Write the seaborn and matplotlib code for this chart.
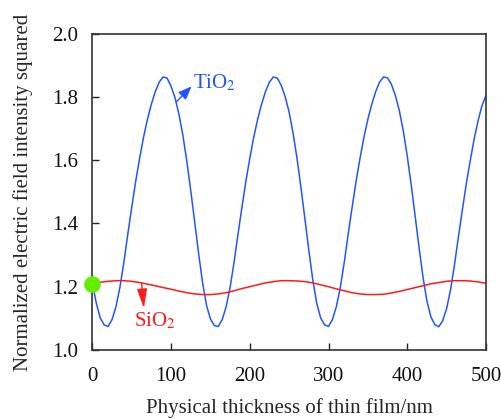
"""
Normalized electric field intensity squared versus physical film thickness
for a TiO2 film and a SiO2 film.
"""

import numpy as np
import matplotlib
matplotlib.use("Agg")
import matplotlib.pyplot as plt
import seaborn as sns

# Physical thickness of thin film (nm), read every 5 nm / 10 nm
thickness_tio2 = np.arange(0, 505, 5)
thickness_sio2 = np.arange(0, 510, 10)

# TiO2 curve values
efield_tio2 = [
    1.212, 1.148, 1.101, 1.079, 1.074, 1.096, 1.137, 1.198, 1.277, 1.366,
    1.451, 1.533, 1.606, 1.673, 1.730, 1.778, 1.818, 1.848, 1.864, 1.860,
    1.834, 1.798, 1.746, 1.679, 1.597, 1.504, 1.405, 1.305, 1.213, 1.141,
    1.098, 1.077, 1.074, 1.096, 1.137, 1.198, 1.277, 1.366, 1.451, 1.533,
    1.606, 1.673, 1.730, 1.778, 1.818, 1.848, 1.864, 1.860, 1.837, 1.801,
    1.752, 1.686, 1.606, 1.514, 1.415, 1.315, 1.222, 1.148, 1.101, 1.079,
    1.074, 1.096, 1.137, 1.198, 1.277, 1.366, 1.451, 1.533, 1.606, 1.673,
    1.730, 1.778, 1.818, 1.848, 1.864, 1.861, 1.840, 1.805, 1.757, 1.693,
    1.614, 1.523, 1.425, 1.325, 1.231, 1.155, 1.105, 1.080, 1.073, 1.092,
    1.130, 1.190, 1.268, 1.357, 1.442, 1.525, 1.598, 1.667, 1.725, 1.773,
    1.805,
]

# SiO2 curve values
efield_sio2 = [
    1.209, 1.214, 1.217, 1.219, 1.219, 1.217, 1.213, 1.208, 1.203, 1.197,
    1.192, 1.186, 1.181, 1.177, 1.175, 1.175, 1.177, 1.181, 1.187, 1.194,
    1.200, 1.206, 1.212, 1.216, 1.219, 1.219, 1.218, 1.216, 1.212, 1.206,
    1.200, 1.193, 1.187, 1.181, 1.177, 1.175, 1.175, 1.176, 1.180, 1.185,
    1.191, 1.197, 1.203, 1.209, 1.213, 1.217, 1.219, 1.219, 1.218, 1.215,
    1.211,
]

# common starting point (substrate surface)
start_x = [0]
start_y = [1.21]

x_ticks = [0, 100, 200, 300, 400, 500]
y_ticks = [1.0, 1.2, 1.4, 1.6, 1.8, 2.0]

BLUE = "#2255ff"
RED = "#ff1a1a"
GREEN = "#66ee00"

sns.set_style("ticks")
plt.rcParams["font.family"] = ["Liberation Serif", "DejaVu Serif"]
plt.rcParams["mathtext.fontset"] = "stix"

fig = plt.figure(figsize=(5.02, 4.19), dpi=100)
ax = fig.add_axes([0.184, 0.165, 0.784, 0.754])

sns.lineplot(x=thickness_tio2, y=efield_tio2, color=BLUE, linewidth=1.1, ax=ax)
sns.lineplot(x=thickness_sio2, y=efield_sio2, color=RED, linewidth=1.1, ax=ax)
ax.plot(start_x, start_y, "o", color=GREEN, markersize=11, clip_on=False, zorder=5)

# labels with arrows (arrow runs from the curve to the label)
ax.annotate("", xy=(126, 1.834), xytext=(107, 1.786),
            arrowprops=dict(arrowstyle="-|>,head_length=0.5,head_width=0.2",
                            color=BLUE, lw=1.0, mutation_scale=16,
                            shrinkA=0, shrinkB=0))
ax.text(128, 1.845, "TiO$_2$", color=BLUE, fontsize=15, va="center", ha="left")
ax.annotate("", xy=(65.4, 1.132), xytext=(62.5, 1.212),
            arrowprops=dict(arrowstyle="-|>,head_length=0.65,head_width=0.17",
                            color=RED, lw=1.0, mutation_scale=18,
                            shrinkA=0, shrinkB=0))
ax.text(80, 1.092, "SiO$_2$", color=RED, fontsize=15, va="center", ha="center")

ax.set_xlim(0, 500)
ax.set_ylim(1.0, 2.0)
ax.set_xticks(x_ticks)
ax.set_yticks(y_ticks)
ax.set_yticklabels([f"{v:.1f}" for v in y_ticks])
ax.tick_params(direction="in", length=5, width=1, labelsize=15, pad=10,
               colors="#222222", labelcolor="#111111")
ax.tick_params(axis="x", pad=12)

for side in ["left", "right", "top", "bottom"]:
    ax.spines[side].set_visible(True)
    ax.spines[side].set_color("#333333")
    ax.spines[side].set_linewidth(1.2)

ax.set_xlabel("Physical thickness of thin film/nm", fontsize=15, labelpad=9)
ax.set_ylabel("Normalized electric field intensity squared", fontsize=15, labelpad=14)

fig.savefig("out.png", dpi=100)
